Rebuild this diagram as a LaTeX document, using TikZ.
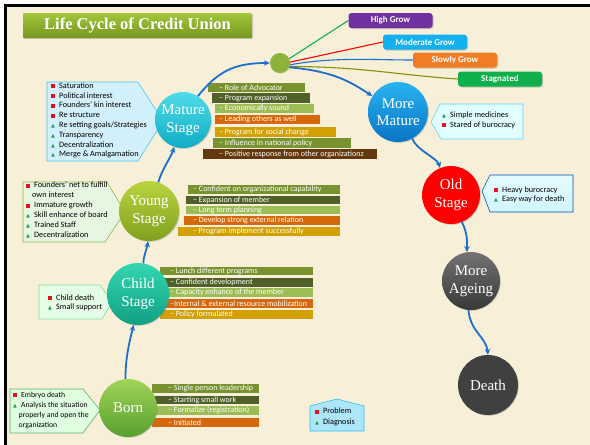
\documentclass[tikz,border=0pt]{standalone}
\usepackage{fontspec}
\setmainfont{Liberation Serif}
\newfontfamily\labelfont{Carlito}
\newfontfamily\symfont{DejaVu Sans}
\usetikzlibrary{arrows.meta, shadows}

\definecolor{parchment}{HTML}{F8EFD9}
\definecolor{flowblue}{HTML}{1C6FCB}
\definecolor{probred}{HTML}{E8101A}
\definecolor{diaggreen}{HTML}{1FA04A}
\definecolor{barolive}{HTML}{77922F}
\definecolor{bardark}{HTML}{4F6128}
\definecolor{barlight}{HTML}{9CBD55}
\definecolor{barorange}{HTML}{D6680C}
\definecolor{bargold}{HTML}{D2A000}
\definecolor{barbrown}{HTML}{64380E}
\definecolor{growpurple}{HTML}{7030A0}
\definecolor{growcyan}{HTML}{12B0EE}
\definecolor{groworange}{HTML}{F07D26}
\definecolor{growgreen}{HTML}{0DB04B}
\definecolor{titletop}{HTML}{A2C63C}
\definecolor{titlebottom}{HTML}{76961F}

\newcommand{\probmark}{\makebox[8pt][l]{\textcolor{probred}{\rule{4.2pt}{4.2pt}}}}
\newcommand{\diagmark}{\makebox[8pt][l]{\textcolor{diaggreen}{\symfont\fontsize{5}{5}\selectfont ▲}}}

\tikzset{
  stage/.style={circle, minimum size=#1, inner sep=0pt, text=white, align=center,
    font=\fontsize{15}{17.5}\selectfont,
    drop shadow={opacity=0.35, shadow xshift=0.8pt, shadow yshift=-0.8pt}},
  bartext/.style={anchor=west, inner sep=0pt, text=white, font=\labelfont\fontsize{8}{9}\selectfont},
  calltext/.style={anchor=north west, inner sep=0pt, align=left},
  callout/.style={line width=0.6pt},
  growbox/.style={rounded corners=3pt, text=white, minimum width=84pt, minimum height=15pt,
    inner sep=0pt, font=\labelfont\bfseries\fontsize{9}{10}\selectfont,
    drop shadow={opacity=0.4, shadow xshift=1pt, shadow yshift=-1pt}},
  flow/.style={draw=flowblue, line width=1.8pt, -{Stealth[length=6pt, width=5.5pt]}},
  hubline/.style={line width=1.1pt}
}

\begin{document}
\begin{tikzpicture}[x=1pt, y=-1pt]
  \useasboundingbox (0,0) rectangle (590,445);
  % background and frame
  \fill[white] (0,0) rectangle (590,445);
  \fill[parchment] (5,5) rectangle (590,445);
  \draw[line width=3pt] (5,445) -- (5,5) -- (590,5);

  % title
  \node[rounded corners=1pt, top color=titletop, bottom color=titlebottom,
        minimum width=229pt, minimum height=25pt, text=white,
        font=\bfseries\fontsize{16.5}{18}\selectfont,
        drop shadow={opacity=0.35, shadow xshift=1pt, shadow yshift=-1pt}]
        (title) at (137.5,25.5) {Life Cycle of Credit Union};

  % callouts
  \draw[callout, fill=cyan!18, draw=cyan!70] (47,82) -- (138,82) -- (163,121) -- (138,161) -- (47,161) -- cycle;
  \node[calltext, font=\labelfont\fontsize{8.2}{9.8}\selectfont] (maturenotes) at (51,82.5) {%
    \probmark Saturation\\ \probmark Political interest\\ \probmark Founders’ kin interest\\
    \probmark Re structure\\ \diagmark Re setting goals/Strategies\\ \diagmark Transparency\\
    \diagmark Decentralization\\ \diagmark Merge \& Amalgamation};

  \draw[callout, fill=yellow!20!green!12, draw=olive!45!green!70] (23,182) -- (107,182) -- (125,212) -- (105,242) -- (23,242) -- cycle;
  \node[calltext, font=\labelfont\fontsize{8.2}{10}\selectfont] (youngnotes) at (26,182) {%
    \probmark Founders’ net to fulfill\\ \makebox[6pt]{}own interest\\ \probmark Immature growth\\
    \diagmark Skill enhance of board\\ \diagmark Trained Staff\\ \diagmark Decentralization};

  \draw[callout, fill=teal!14!green!10, draw=teal!45!green!50] (39,285) -- (100,285) -- (112,302) -- (102,319) -- (39,319) -- cycle;
  \node[calltext, font=\labelfont\fontsize{8.2}{9.5}\selectfont] (childnotes) at (48,294.5) {%
    \probmark Child death\\ \diagmark Small support};

  \draw[callout, fill=green!12, draw=green!45!black!60] (10,389) -- (83,389) -- (100,410) -- (83,433) -- (10,433) -- cycle;
  \node[calltext, font=\labelfont\fontsize{7.7}{10}\selectfont] (bornnotes) at (13,391.5) {%
    \probmark Embryo death\\ \diagmark Analysis the situation\\ \makebox[5.5pt]{}properly and open the\\
    \makebox[5.5pt]{}organization};

  \draw[callout, fill=blue!8!cyan!12, draw=blue!30!cyan!60] (431,122) -- (440,104) -- (523,104) -- (523,139) -- (441,139) -- cycle;
  \node[calltext, font=\labelfont\fontsize{8.2}{10}\selectfont] (morematurenotes) at (442,111.5) {%
    \diagmark Simple medicines\\ \probmark Stared of burocracy};

  \draw[callout, top color=blue!12!cyan!10, bottom color=blue!22!cyan!18, draw=blue!55!cyan!70!black] (482,191) -- (490,175) -- (573,175) -- (573,212) -- (490,212) -- cycle;
  \node[calltext, font=\labelfont\fontsize{8.2}{9.5}\selectfont] (oldnotes) at (494,186.5) {%
    \probmark Heavy burocracy\\ \diagmark Easy way for death};

  \draw[callout, fill=cyan!32, draw=cyan!80] (310,406) -- (337,399) -- (364,406) -- (364,431) -- (310,431) -- cycle;
  \node[calltext, font=\labelfont\fontsize{8.2}{10.5}\selectfont] (legend) at (315,408) {%
    \probmark Problem\\ \diagmark Diagnosis};

  % bars of mature stage
  \foreach \n/\xl/\xr/\yt/\yb/\col/\txt in {
      1/208/305/83/92/barolive/{– Role of Advocator},
      2/212/310/93/103/bardark/{– Program expansion},
      3/215/314/104/113/barlight/{– Economically sound},
      4/215/320/115/124/barorange/{– Leading others as well},
      5/215/336/127/137/bargold/{– Program for social change},
      6/213/351/138/148/barolive/{– Influence in national policy},
      7/203/377/149/159/barbrown/{– Positive response from other organizationz}}{
    \fill[\col] (\xl,\yt) rectangle (\xr,\yb);
    \node[bartext] (maturebar\n) at (219,{(\yt+\yb)/2}) {\txt};
  }
  % bars of young stage
  \foreach \n/\xl/\xr/\yt/\yb/\col/\txt in {
      1/188/340/185/194/barolive/{– Confident on organizational capability},
      2/186/340/196/204/bardark/{– Expansion of member},
      3/186/340/206/214/barlight/{– Long term planning},
      4/184/340/216/225/barorange/{– Develop strong external relation},
      5/178/340/227/236/bargold/{– Program implement successfully}}{
    \fill[\col] (\xl,\yt) rectangle (\xr,\yb);
    \node[bartext] (youngbar\n) at (193,{(\yt+\yb)/2}) {\txt};
  }
  % bars of child stage
  \foreach \n/\xl/\xr/\yt/\yb/\col/\txt in {
      1/160/313/267/275/barolive/{– Lunch different programs},
      2/162/313/278/287/bardark/{– Confident development},
      3/162/313/288/297/barlight/{– Capacity enhance of the member},
      4/162/313/299/308/barorange/{–Internal \& external resource mobilization},
      5/160/313/310/319/bargold/{– Policy formulated}}{
    \fill[\col] (\xl,\yt) rectangle (\xr,\yb);
    \node[bartext] (childbar\n) at (170,{(\yt+\yb)/2}) {\txt};
  }
  % bars of born
  \foreach \n/\xl/\xr/\yt/\yb/\col/\txt in {
      1/152/259/384/393/barolive/{– Single person leadership},
      2/152/259/396/404/bardark/{– Starting small work},
      3/152/259/406/415/barlight/{– Formalize (registration)},
      4/152/259/418/427/barorange/{– Initiated}}{
    \fill[\col] (\xl,\yt) rectangle (\xr,\yb);
    \node[bartext] (bornbar\n) at (168,{(\yt+\yb)/2}) {\txt};
  }

  % stages
  \node[stage=58pt, top color={rgb,255:red,160;green,212;blue,88}, bottom color={rgb,255:red,88;green,160;blue,48}] (born) at (128,408) {Born};
  \node[stage=62pt, top color={rgb,255:red,52;green,214;blue,176}, bottom color={rgb,255:red,16;green,160;blue,130}] (child) at (138,294) {Child\\Stage};
  \node[stage=60pt, top color={rgb,255:red,186;green,212;blue,64}, bottom color={rgb,255:red,128;green,160;blue,30}] (young) at (149,211) {Young\\Stage};
  \node[stage=56pt, top color={rgb,255:red,80;green,220;blue,234}, bottom color={rgb,255:red,14;green,172;blue,196}] (mature) at (183,120) {Mature\\Stage};
  \node[circle, minimum size=20pt, inner sep=0pt, fill={rgb,255:red,140;green,178;blue,58},
        drop shadow={opacity=0.3, shadow xshift=0.6pt, shadow yshift=-0.6pt}] (hub) at (280,63) {};
  \node[stage=60pt, top color={rgb,255:red,40;green,180;blue,240}, bottom color={rgb,255:red,10;green,116;blue,198}] (moremature) at (398,112) {More\\Mature};
  \node[stage=58pt, fill=red] (old) at (451,195) {Old\\Stage};
  \node[stage=58pt, top color=black!55, bottom color=black!78] (moreageing) at (471,281) {More\\Ageing};
  \node[stage=60pt, fill=black!75] (death) at (488,385) {Death};

  % growth outcomes
  \node[growbox, fill=growpurple] (high) at (390.5,20.5) {High Grow};
  \node[growbox, fill=growcyan] (moderate) at (425,42) {Moderate Grow};
  \node[growbox, fill=groworange] (slowly) at (455,60) {Slowly Grow};
  \node[growbox, fill=growgreen] (stagnated) at (500,79) {Stagnated};

  \draw[hubline, draw=growgreen] (hub.25) -- (high.west);
  \draw[hubline, draw=red] (hub.5) -- (moderate.west);
  \draw[hubline, draw=flowblue] (hub.-10) .. controls +(45,-8) and +(-40,0) .. (slowly.west);
  \draw[hubline, draw=olive!80!green] (hub.-20) .. controls +(70,0) and +(-60,-4) .. (stagnated.west);

  % life cycle flow
  \draw[flow] (born.95) .. controls +(0,-22) and +(-4,16) .. (child.262);
  \draw[flow] (child.80) .. controls +(0,-8) and +(-1,8) .. (young.268);
  \draw[flow] (young.72) .. controls +(4,-14) and +(-4,12) .. (mature.252);
  \draw[flow] (mature.58) .. controls +(20,-25) and +(-35,0) .. (hub.west);
  \draw[flow] (hub.-25) .. controls +(45,4) and +(-22,-14) .. (moremature.148);
  \draw[flow] (moremature.-62) .. controls +(5,12) and +(-3,-10) .. (old.112);
  \draw[flow] (old.-68) .. controls +(6,12) and +(0,-10) .. (moreageing.98);
  \draw[flow] (moreageing.-95) .. controls +(2,22) and +(-2,-18) .. (death.north);
\end{tikzpicture}
\end{document}
